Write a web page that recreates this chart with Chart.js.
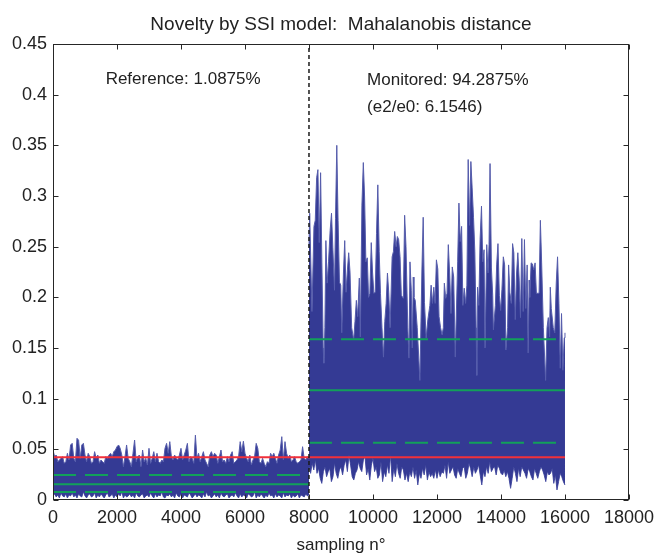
<!DOCTYPE html>
<html>
<head>
<meta charset="utf-8">
<script src="https://cdn.jsdelivr.net/npm/chart.js@4.4.1/dist/chart.umd.min.js"></script>
<style>
  html, body { margin: 0; padding: 0; background: #fff; }
  canvas { display: block; }
</style>
</head>
<body>
<canvas id="grafico" width="661" height="554"></canvas>
<script>
// --- dados ---
const passo = 50;          // amostras entre pontos dos envelopes
const limiteAmostras = 8000;
const totalAmostras = 16000;
const limiar = 0.0421;     // linha vermelha
const refFaixa = [0.0079, 0.0155, 0.0247];   // inferior, média, superior (referência)
const monFaixa = [0.0566, 0.1083, 0.1586];   // inferior, média, superior (monitorado)
const xTicks = [0, 2000, 4000, 6000, 8000, 10000, 12000, 14000, 16000, 18000];
const yTicks = [0, 0.05, 0.1, 0.15, 0.2, 0.25, 0.3, 0.35, 0.4, 0.45];

// envelope superior da referência (0..8000, a cada 50 amostras)
const refSuperior = [
  .0493,.0428,.0444,.0378,.0395,.0411,.0428,.0362,.0378,.0461,
  .0395,.0543,.0559,.0411,.0378,.0609,.0590,.0411,.0543,.0559,
  .0444,.0378,.0461,.0428,.0362,.0378,.0477,.0411,.0444,.0362,
  .0395,.0378,.0362,.0428,.0411,.0444,.0461,.0428,.0477,.0493,
  .0526,.0543,.0510,.0444,.0329,.0428,.0543,.0411,.0378,.0329,
  .0461,.0592,.0378,.0428,.0444,.0329,.0493,.0378,.0411,.0345,
  .0510,.0362,.0411,.0477,.0378,.0461,.0378,.0362,.0395,.0378,
  .0510,.0559,.0461,.0576,.0428,.0395,.0444,.0411,.0395,.0444,
  .0510,.0395,.0444,.0493,.0559,.0378,.0428,.0411,.0362,.0640,
  .0411,.0461,.0378,.0428,.0477,.0395,.0362,.0329,.0444,.0477,
  .0428,.0461,.0444,.0362,.0428,.0493,.0378,.0395,.0362,.0428,
  .0378,.0444,.0477,.0362,.0378,.0395,.0428,.0576,.0477,.0580,
  .0461,.0411,.0378,.0444,.0345,.0395,.0428,.0559,.0510,.0378,
  .0362,.0411,.0362,.0329,.0378,.0362,.0461,.0428,.0461,.0411,
  .0362,.0444,.0493,.0625,.0395,.0576,.0461,.0411,.0444,.0378,
  .0395,.0428,.0378,.0362,.0378,.0395,.0526,.0411,.0395,.0428,
  .0411
];

// envelope inferior da referência
const refInferior = [
  0.004,0.006,0.003,0.005,0.002,0.007,0.004,0.003,0.006,0.002,
  0.005,0.004,0.007,0.003,0.005,0.002,0.006,0.004,0.003,0.008,
  0.004,0.002,0.005,0.006,0.003,0.004,0.007,0.002,0.005,0.003,
  0.006,0.004,0.002,0.005,0.007,0.003,0.004,0.006,0.002,0.005,
  0.003,0.006,0.004,0.008,0.002,0.005,0.003,0.004,0.006,0.003,
  0.005,0.002,0.007,0.004,0.003,0.005,0.006,0.002,0.004,0.005,
  0.003,0.007,0.004,0.002,0.006,0.003,0.005,0.004,0.008,0.003,
  0.002,0.005,0.004,0.006,0.003,0.005,0.002,0.007,0.004,0.003,
  0.006,0.002,0.005,0.004,0.003,0.007,0.005,0.002,0.004,0.006,
  0.003,0.005,0.004,0.002,0.006,0.003,0.008,0.004,0.005,0.002,
  0.004,0.006,0.003,0.005,0.002,0.007,0.004,0.003,0.005,0.006,
  0.002,0.004,0.005,0.003,0.007,0.004,0.002,0.006,0.003,0.005,
  0.004,0.002,0.006,0.005,0.003,0.004,0.008,0.002,0.005,0.003,
  0.006,0.004,0.002,0.005,0.003,0.007,0.004,0.005,0.002,0.006,
  0.003,0.005,0.004,0.002,0.007,0.003,0.005,0.004,0.006,0.002,
  0.005,0.003,0.004,0.006,0.002,0.005,0.004,0.003,0.006,0.004,
  0.005
];

// picos do envelope superior monitorado: [amostra, valor]
const monSuperior = [
  [8000,.250],[8022,.283],[8093,.186],[8155,.270],[8196,.276],[8239,.318],[8279,.326],[8320,.254],
  [8363,.323],[8403,.234],[8444,.150],[8466,.135],[8497,.170],[8528,.256],[8568,.214],[8611,.235],
  [8661,.266],[8704,.283],[8745,.249],[8798,.207],[8829,.278],[8869,.350],[8909,.276],[8953,.215],
  [8993,.212],[9024,.165],[9077,.224],[9117,.256],[9158,.205],[9201,.227],[9241,.244],[9282,.225],
  [9334,.170],[9397,.158],[9437,.176],[9480,.197],[9521,.181],[9573,.219],[9604,.161],[9654,.291],
  [9698,.333],[9738,.299],[9778,.235],[9822,.239],[9862,.200],[9902,.204],[9946,.254],[9986,.225],
  [10027,.204],[10070,.205],[10110,.263],[10151,.311],[10194,.245],[10234,.204],[10281,.170],[10328,.141],
  [10368,.176],[10411,.194],[10452,.224],[10492,.205],[10535,.170],[10598,.240],[10638,.245],[10678,.265],
  [10722,.250],[10762,.260],[10802,.257],[10846,.240],[10886,.202],[10948,.199],[10989,.281],[11032,.250],
  [11088,.170],[11125,.140],[11156,.235],[11197,.207],[11228,.150],[11259,.220],[11280,.200],[11321,.197],
  [11383,.170],[11466,.118],[11529,.227],[11569,.279],[11609,.195],[11662,.160],[11715,.178],[11777,.192],
  [11817,.212],[11858,.194],[11901,.210],[11941,.194],[11982,.237],[12025,.228],[12065,.181],[12112,.170],
  [12159,.163],[12199,.170],[12230,.214],[12273,.199],[12314,.204],[12354,.252],[12398,.222],[12438,.184],
  [12478,.230],[12522,.220],[12571,.141],[12646,.235],[12686,.293],[12726,.255],[12770,.270],[12810,.192],
  [12851,.209],[12894,.194],[12934,.212],[12975,.336],[13018,.271],[13059,.334],[13099,.308],[13142,.279],
  [13183,.245],[13223,.170],[13245,.123],[13267,.210],[13307,.192],[13347,.257],[13391,.290],[13431,.235],
  [13471,.247],[13502,.150],[13555,.252],[13596,.224],[13627,.252],[13658,.332],[13701,.229],[13741,.202],
  [13763,.168],[13825,.192],[13865,.232],[13906,.253],[13949,.202],[13990,.187],[14030,.208],[14073,.240],
  [14114,.232],[14154,.148],[14207,.170],[14238,.232],[14278,.205],[14322,.194],[14362,.253],[14402,.244],
  [14446,.178],[14486,.223],[14527,.244],[14570,.217],[14610,.180],[14651,.258],[14694,.186],[14734,.257],
  [14775,.189],[14818,.232],[14849,.145],[14880,.217],[14899,.200],[14942,.234],[14983,.233],[15023,.227],
  [15066,.234],[15107,.204],[15147,.204],[15191,.204],[15231,.276],[15271,.234],[15324,.170],[15395,.118],
  [15439,.170],[15479,.180],[15520,.161],[15541,.210],[15572,.189],[15634,.170],[15681,.165],[15727,.214],
  [15768,.240],[15811,.194],[15852,.130],[15892,.184],[15935,.128],[15976,.160],[16000,.165]
];

// envelope inferior monitorado (8000..16000, a cada 50 amostras)
const monInferior = [
  .0329,.0263,.0362,.0296,.0395,.0263,.0312,.0214,.0164,.0280,
  .0329,.0230,.0280,.0312,.0181,.0230,.0362,.0263,.0214,.0296,
  .0329,.0247,.0345,.0395,.0280,.0444,.0345,.0230,.0197,.0263,
  .0296,.0378,.0312,.0280,.0395,.0428,.0247,.0312,.0197,.0345,
  .0411,.0280,.0329,.0214,.0247,.0378,.0181,.0280,.0230,.0345,
  .0263,.0444,.0181,.0312,.0230,.0362,.0263,.0214,.0329,.0296,
  .0197,.0263,.0181,.0280,.0230,.0329,.0214,.0296,.0148,.0263,
  .0214,.0312,.0247,.0345,.0197,.0280,.0230,.0263,.0214,.0296,
  .0214,.0296,.0230,.0280,.0263,.0345,.0214,.0378,.0263,.0296,
  .0329,.0247,.0214,.0312,.0263,.0230,.0312,.0329,.0214,.0263,
  .0362,.0312,.0230,.0329,.0263,.0296,.0345,.0247,.0148,.0280,
  .0230,.0329,.0263,.0378,.0280,.0312,.0329,.0247,.0345,.0312,
  .0263,.0247,.0296,.0230,.0280,.0214,.0115,.0214,.0329,.0263,
  .0181,.0312,.0230,.0329,.0296,.0263,.0214,.0312,.0280,.0230,
  .0197,.0312,.0263,.0214,.0280,.0329,.0296,.0247,.0181,.0280,
  .0247,.0263,.0312,.0164,.0247,.0099,.0181,.0263,.0230,.0181,
  .0148
];

const corAzul = '#343a94';
const corBorda = '#555cab';
const corVerde = '#12a05a';
const corVermelho = '#f2303a';
const corEixo = '#262626';
const fonte = '"Liberation Sans", Arial, Helvetica, sans-serif';

function serie(valores, inicio) {
  return valores.map((v, i) => ({ x: inicio + i * passo, y: v }));
}

function linhaH(y, x0, x1) {
  return [{ x: x0, y: y }, { x: x1, y: y }];
}

function fmt(v) {
  return String(parseFloat(v.toFixed(2)));
}

const moldura = {
  id: 'moldura',
  afterDraw(chart) {
    const { ctx, chartArea: a, scales } = chart;
    const sx = scales.x, sy = scales.y;
    ctx.save();
    ctx.strokeStyle = corEixo;
    ctx.lineWidth = 1;
    const l = Math.round(a.left) + 0.5, r = Math.round(a.right) - 0.5;
    const t = Math.round(a.top) + 0.5, b = Math.round(a.bottom) - 0.5;
    ctx.strokeRect(l, t, r - l, b - t);
    ctx.beginPath();
    xTicks.forEach(v => {
      const px = Math.round(sx.getPixelForValue(v)) + 0.5;
      ctx.moveTo(px, b); ctx.lineTo(px, b - 5);
      ctx.moveTo(px, t); ctx.lineTo(px, t + 5);
    });
    yTicks.forEach(v => {
      const py = Math.round(sy.getPixelForValue(v)) + 0.5;
      ctx.moveTo(l, py); ctx.lineTo(l + 5, py);
      ctx.moveTo(r, py); ctx.lineTo(r - 5, py);
    });
    ctx.stroke();

    ctx.fillStyle = '#222';
    ctx.textBaseline = 'alphabetic';
    ctx.textAlign = 'center';
    ctx.font = '19px ' + fonte;
    ctx.fillText('Novelty by SSI model:  Mahalanobis distance', (a.left + a.right) / 2, 30);
    ctx.font = '17px ' + fonte;
    ctx.fillText('sampling n°', (a.left + a.right) / 2, 550);

    ctx.textAlign = 'left';
    ctx.fillText('Reference: 1.0875%', sx.getPixelForValue(1645), sy.getPixelForValue(0.4105));
    ctx.fillText('Monitored: 94.2875%', sx.getPixelForValue(9816), sy.getPixelForValue(0.4096));
    ctx.fillText('(e2/e0: 6.1546)', sx.getPixelForValue(9816), sy.getPixelForValue(0.3832));
    ctx.restore();
  }
};

const linhaFina = { borderWidth: 1, pointRadius: 0, fill: false };
const linhaLimite = { borderWidth: 2, pointRadius: 0, fill: false };

new Chart(document.getElementById('grafico'), {
  type: 'line',
  data: {
    datasets: [
      { ...linhaFina, borderWidth: 1.5, borderColor: '#1a1a1a', borderDash: [4, 3],
        data: [{ x: limiteAmostras, y: 0 }, { x: limiteAmostras, y: 0.45 }] },
      { ...linhaLimite, data: linhaH(limiar, 0, totalAmostras), borderColor: corVermelho },
      { ...linhaLimite, data: linhaH(refFaixa[1], 0, limiteAmostras), borderColor: corVerde },
      { ...linhaLimite, data: linhaH(refFaixa[0], 0, limiteAmostras), borderColor: corVerde, borderDash: [23, 9] },
      { ...linhaLimite, data: linhaH(refFaixa[2], 0, limiteAmostras), borderColor: corVerde, borderDash: [23, 9] },
      { ...linhaLimite, data: linhaH(monFaixa[1], limiteAmostras, totalAmostras), borderColor: corVerde },
      { ...linhaLimite, data: linhaH(monFaixa[0], limiteAmostras, totalAmostras), borderColor: corVerde, borderDash: [23, 9] },
      { ...linhaLimite, data: linhaH(monFaixa[2], limiteAmostras, totalAmostras), borderColor: corVerde, borderDash: [23, 9] },
      { ...linhaFina, data: serie(refSuperior, 0), borderColor: corBorda,
        fill: '+1', backgroundColor: corAzul },
      { ...linhaFina, data: serie(refInferior, 0), borderColor: corBorda },
      { ...linhaFina, data: monSuperior.map(p => ({ x: p[0], y: p[1] })), borderColor: corBorda,
        fill: '+1', backgroundColor: corAzul },
      { ...linhaFina, data: serie(monInferior, limiteAmostras), borderColor: corBorda }
    ]
  },
  options: {
    responsive: false,
    animation: false,
    devicePixelRatio: 1,
    layout: { padding: { top: 44, right: 28, left: 0, bottom: 0 } },
    elements: { line: { tension: 0 }, point: { radius: 0 } },
    plugins: { legend: { display: false }, tooltip: { enabled: false }, title: { display: false } },
    scales: {
      x: {
        type: 'linear', min: 0, max: 18000,
        afterFit: s => { s.height = 54; },
        afterBuildTicks: s => { s.ticks = xTicks.map(v => ({ value: v })); },
        grid: { display: false, drawTicks: false },
        border: { display: false },
        ticks: { color: '#222', font: { family: fonte, size: 18 }, padding: 7, maxRotation: 0,
                 autoSkip: false, callback: v => String(v) }
      },
      y: {
        type: 'linear', min: 0, max: 0.45,
        afterFit: s => { s.width = 53; },
        afterBuildTicks: s => { s.ticks = yTicks.map(v => ({ value: v })); },
        grid: { display: false, drawTicks: false },
        border: { display: false },
        ticks: { color: '#222', font: { family: fonte, size: 18 }, padding: 6,
                 callback: v => fmt(v) }
      }
    }
  },
  plugins: [moldura]
});
</script>
</body>
</html>
